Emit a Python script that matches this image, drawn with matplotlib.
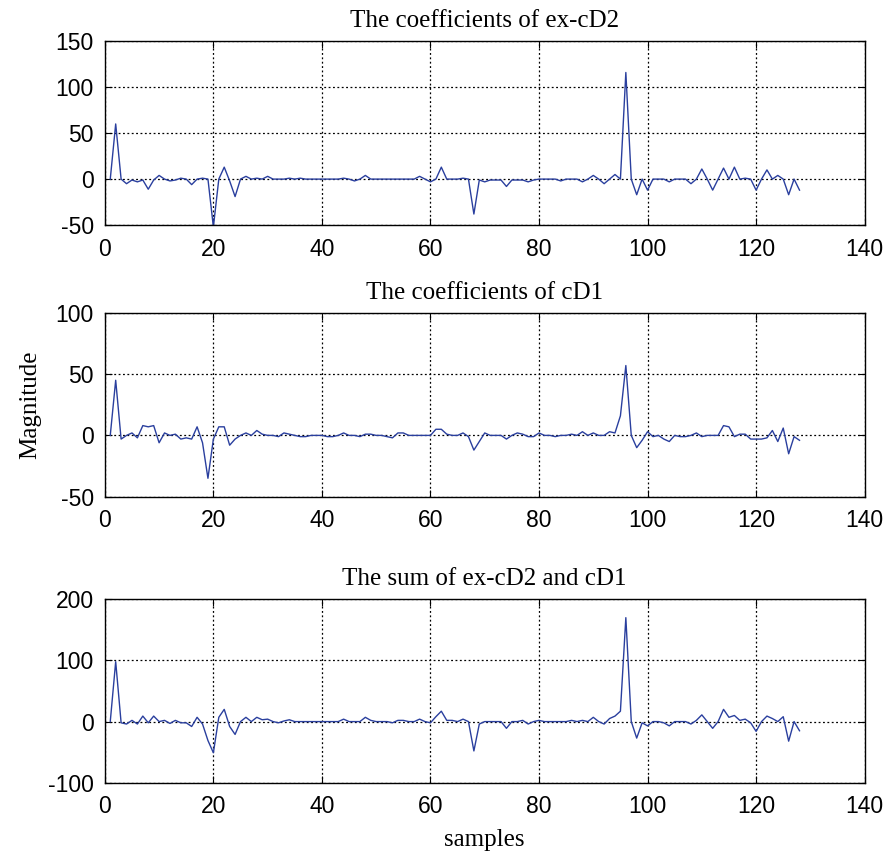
import numpy as np
import matplotlib
matplotlib.use("Agg")
import matplotlib.pyplot as plt

plt.rcParams["axes.unicode_minus"] = False

samples = np.arange(1, 129)

# coefficients of ex-cD2
ex_cd2 = [
    0, 60, 0, -5, -1, -3, -1, -11, -1, 4,
    0, -2, -1, 1, 0, -6, 0, 1, 0, -52,
    0, 13, -2, -19, 0, 3, 0, 1, 0, 3,
    0, 0, 0, 1, 0, 1, 0, 0, 0, 0,
    0, 0, 0, 1, 0, -2, 0, 4, 0, 0,
    0, 0, 0, 0, 0, 0, 0, 3, 0, -3,
    0, 13, 0, 0, 0, 1, 0, -38, -1, -3,
    -1, -1, -1, -8, -1, -1, -1, -3, -1, 0,
    0, 0, 0, -2, 0, 0, 0, -3, 0, 4,
    0, -5, 0, 5, 0, 116, 0, -17, 0, -12,
    0, 0, 0, -3, 0, 0, 0, -5, 0, 11,
    0, -12, 0, 12, 0, 13, 0, 1, 0, -12,
    0, 10, 0, 4, 0, -17, 0, -12,
]

# coefficients of cD1
cd1 = [
    0, 45, -3, 0, 2, -2, 8, 7, 8, -6,
    2, 0, 1, -3, -2, -3, 7, -6, -35, -3,
    7, 7, -8, -3, 0, 2, 0, 4, 1, 0,
    0, -1, 2, 1, 0, -1, -1, 0, 0, 0,
    -1, -1, 0, 2, 0, 0, -1, 1, 1, 0,
    0, -1, -2, 2, 2, 0, 0, 0, 0, 0,
    5, 5, 1, 0, 0, 2, -1, -12, -5, 2,
    0, 0, 0, -3, 0, 2, 1, -1, -1, 2,
    0, 0, -1, 0, 0, 1, 0, 3, 0, 2,
    0, 0, 3, 2, 16, 57, 0, -10, -4, 3,
    -1, 0, -3, -5, 0, -1, -1, 0, 2, -1,
    0, 0, 0, 8, 7, -1, 1, 1, -3, -3,
    -3, -2, 4, -5, 6, -15, -1, -4,
]

# sum of ex-cD2 and cD1
total = [
    0, 98, -2, -4, 2, -4, 9, -2, 9, 0,
    2, -3, 2, -2, -2, -8, 7, -4, -31, -51,
    7, 20, -8, -21, 0, 7, 0, 7, 3, 4,
    0, -2, 1, 3, 0, 0, 0, 0, 0, 0,
    0, 0, 0, 4, 0, 0, 0, 7, 2, 0,
    0, 0, -2, 2, 2, 0, 0, 4, 0, -2,
    8, 17, 2, 2, 0, 4, 0, -48, -4, 0,
    0, 0, 0, -11, 0, 0, 2, -4, 0, 2,
    0, 0, 0, 0, 0, 2, 0, 2, 0, 7,
    0, -4, 5, 9, 17, 170, 0, -27, -2, -7,
    0, 0, -2, -7, 0, 0, 0, -4, 2, 11,
    0, -11, 0, 20, 7, 10, 2, 4, -2, -16,
    0, 9, 5, 0, 8, -32, 0, -15,
]

titles = ["The coefficients of ex-cD2", "The coefficients of cD1",
          "The sum of ex-cD2 and cD1"]
series = [ex_cd2, cd1, total]
ylims = [(-50, 150), (-50, 100), (-100, 200)]
yticks = [[-50, 0, 50, 100, 150], [-50, 0, 50, 100], [-100, 0, 100, 200]]
xticks = [0, 20, 40, 60, 80, 100, 120, 140]

serif = "Liberation Serif"
sans = "Liberation Sans"

fig = plt.figure(figsize=(8.96, 8.59), dpi=100)
boxes = [[0.117, 0.738, 0.848, 0.214],
         [0.117, 0.4218, 0.848, 0.214],
         [0.117, 0.0888, 0.848, 0.2135]]

axes = []
for box, y, title, lim, yt in zip(boxes, series, titles, ylims, yticks):
    ax = fig.add_axes(box)
    ax.plot(samples, y, color="#2a3f9e", linewidth=1.0)
    ax.set_xlim(0, 140)
    ax.set_ylim(*lim)
    ax.set_xticks(xticks)
    ax.set_yticks(yt)
    ax.grid(True, color="black", linestyle=(0, (1.5, 2.0)), linewidth=0.9)
    ax.tick_params(direction="in", top=True, right=True, length=5,
                   width=0.8, labelsize=16.5)
    ax.tick_params(axis="x", pad=9)
    ax.tick_params(axis="y", pad=8)
    for lab in ax.get_xticklabels() + ax.get_yticklabels():
        lab.set_family(sans)
    for sp in ax.spines.values():
        sp.set_linewidth(1.0)
    ax.set_title(title, family=serif, fontsize=18, pad=10)
    axes.append(ax)

axes[1].set_ylabel("Magnitude", family=serif, fontsize=18, labelpad=10)
axes[2].set_xlabel("samples", family=serif, fontsize=18, labelpad=8)

fig.savefig("out.png", dpi=100)
